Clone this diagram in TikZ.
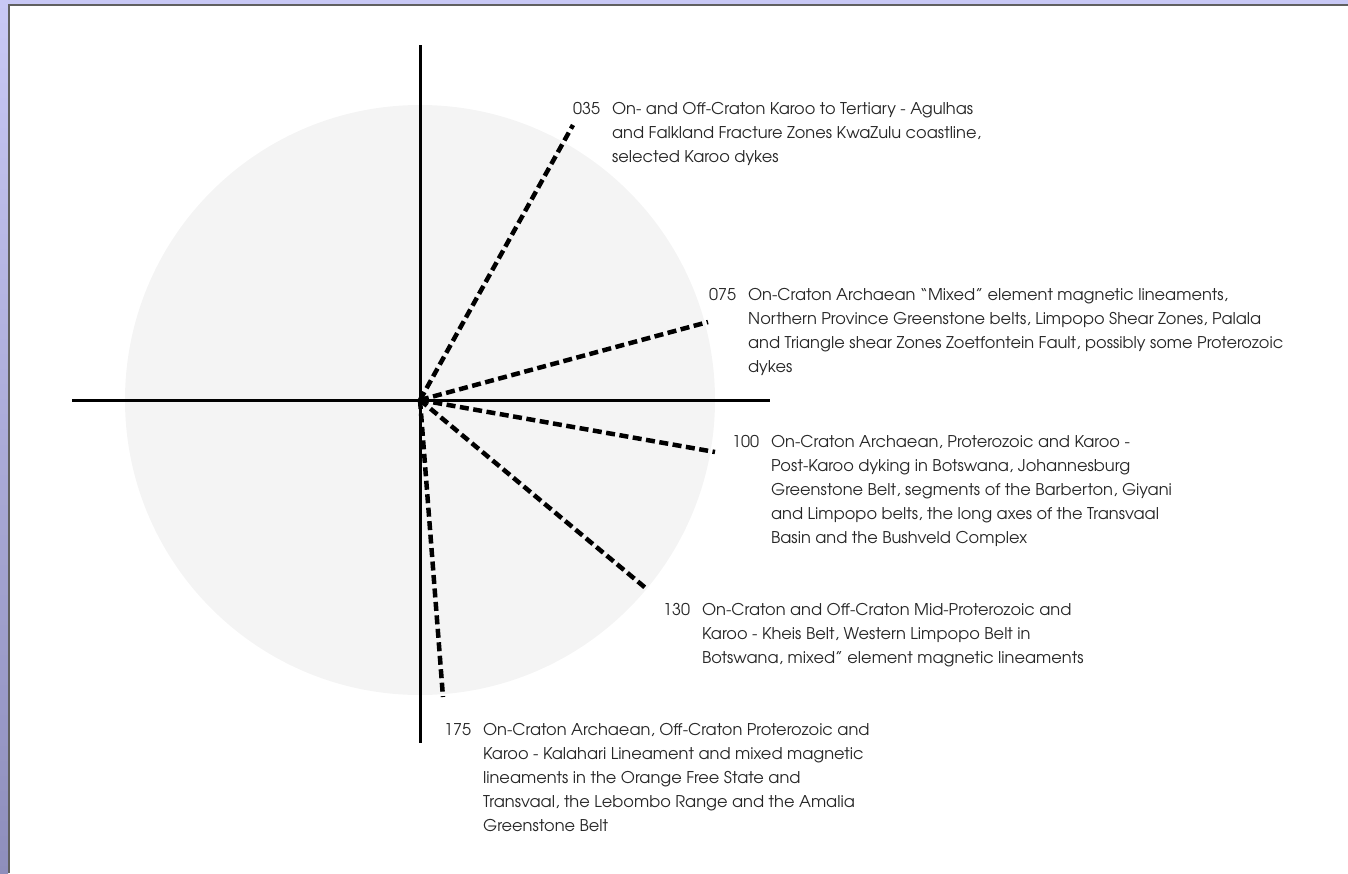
\documentclass[tikz,border=0pt]{standalone}
\usepackage{fontspec}
\setmainfont{TeX Gyre Adventor}
\usetikzlibrary{positioning}
\definecolor{mygrey}{RGB}{244,244,244}
\definecolor{frametop}{RGB}{200,200,245}
\definecolor{framebot}{RGB}{142,142,188}
\definecolor{framedark}{RGB}{96,96,96}
\tikzset{
  trend/.style={line width=4.5, dash pattern=on 9pt off 4.5pt},
  axisline/.style={line width=3},
  trendlabel/.style={anchor=north west, inner sep=0, text=black!85, font=\fontsize{16.2}{24}\selectfont},
}

\begin{document}
\begin{tikzpicture}[x=1pt,y=-1pt]
\useasboundingbox (0,0) rectangle (1348,873);

%frame of the slide
\shade[top color=frametop, bottom color=framebot] (0,0) rectangle (8,873);
\fill[frametop] (0,0) rectangle (1348,4);
\draw[framedark, line width=1.5] (8.75,873) -- (8.75,4.75) -- (1348,4.75);

%the rose
\coordinate (o) at (420,400);
\fill[mygrey] (o) circle (295);

%axes
\coordinate (w) at (72,400);
\coordinate (e) at (770,400);
\coordinate (n) at (420,45);
\coordinate (s) at (420,743);
\draw[axisline] (w) -- (e);
\draw[axisline] (n) -- (s);

%trends
\coordinate (t035) at (573,125);
\coordinate (t075) at (708,322);
\coordinate (t100) at (715,452);
\coordinate (t130) at (648,590);
\coordinate (t175) at (443,697);
\draw[trend] (o) -- (t035);
\draw[trend] (o) -- (t075);
\draw[trend] (o) -- (t100);
\draw[trend] (o) -- (t130);
\draw[trend] (o) -- (t175);

%labels
\node[trendlabel] (l035) at (573,97) {\begin{tabular}{@{}l@{\hspace{12pt}}l@{}}
035 & On- and Off-Craton Karoo to Tertiary - Agulhas\\
 & and Falkland Fracture Zones KwaZulu coastline,\\
 & selected Karoo dykes
\end{tabular}};
\node[trendlabel] (l075) at (709,283) {\begin{tabular}{@{}l@{\hspace{12pt}}l@{}}
075 & On-Craton Archaean “Mixed” element magnetic lineaments,\\
 & Northern Province Greenstone belts, Limpopo Shear Zones, Palala\\
 & and Triangle shear Zones Zoetfontein Fault, possibly some Proterozoic\\
 & dykes
\end{tabular}};
\node[trendlabel] (l100) at (732,430) {\begin{tabular}{@{}l@{\hspace{12pt}}l@{}}
100 & On-Craton Archaean, Proterozoic and Karoo -\\
 & Post-Karoo dyking in Botswana, Johannesburg\\
 & Greenstone Belt, segments of the Barberton, Giyani\\
 & and Limpopo belts, the long axes of the Transvaal\\
 & Basin and the Bushveld Complex
\end{tabular}};
\node[trendlabel] (l130) at (663,598) {\begin{tabular}{@{}l@{\hspace{12pt}}l@{}}
130 & On-Craton and Off-Craton Mid-Proterozoic and\\
 & Karoo - Kheis Belt, Western Limpopo Belt in\\
 & Botswana, mixed” element magnetic lineaments
\end{tabular}};
\node[trendlabel] (l175) at (444,718) {\begin{tabular}{@{}l@{\hspace{12pt}}l@{}}
175 & On-Craton Archaean, Off-Craton Proterozoic and\\
 & Karoo - Kalahari Lineament and mixed magnetic\\
 & lineaments in the Orange Free State and\\
 & Transvaal, the Lebombo Range and the Amalia\\
 & Greenstone Belt
\end{tabular}};
\end{tikzpicture}
\end{document}
